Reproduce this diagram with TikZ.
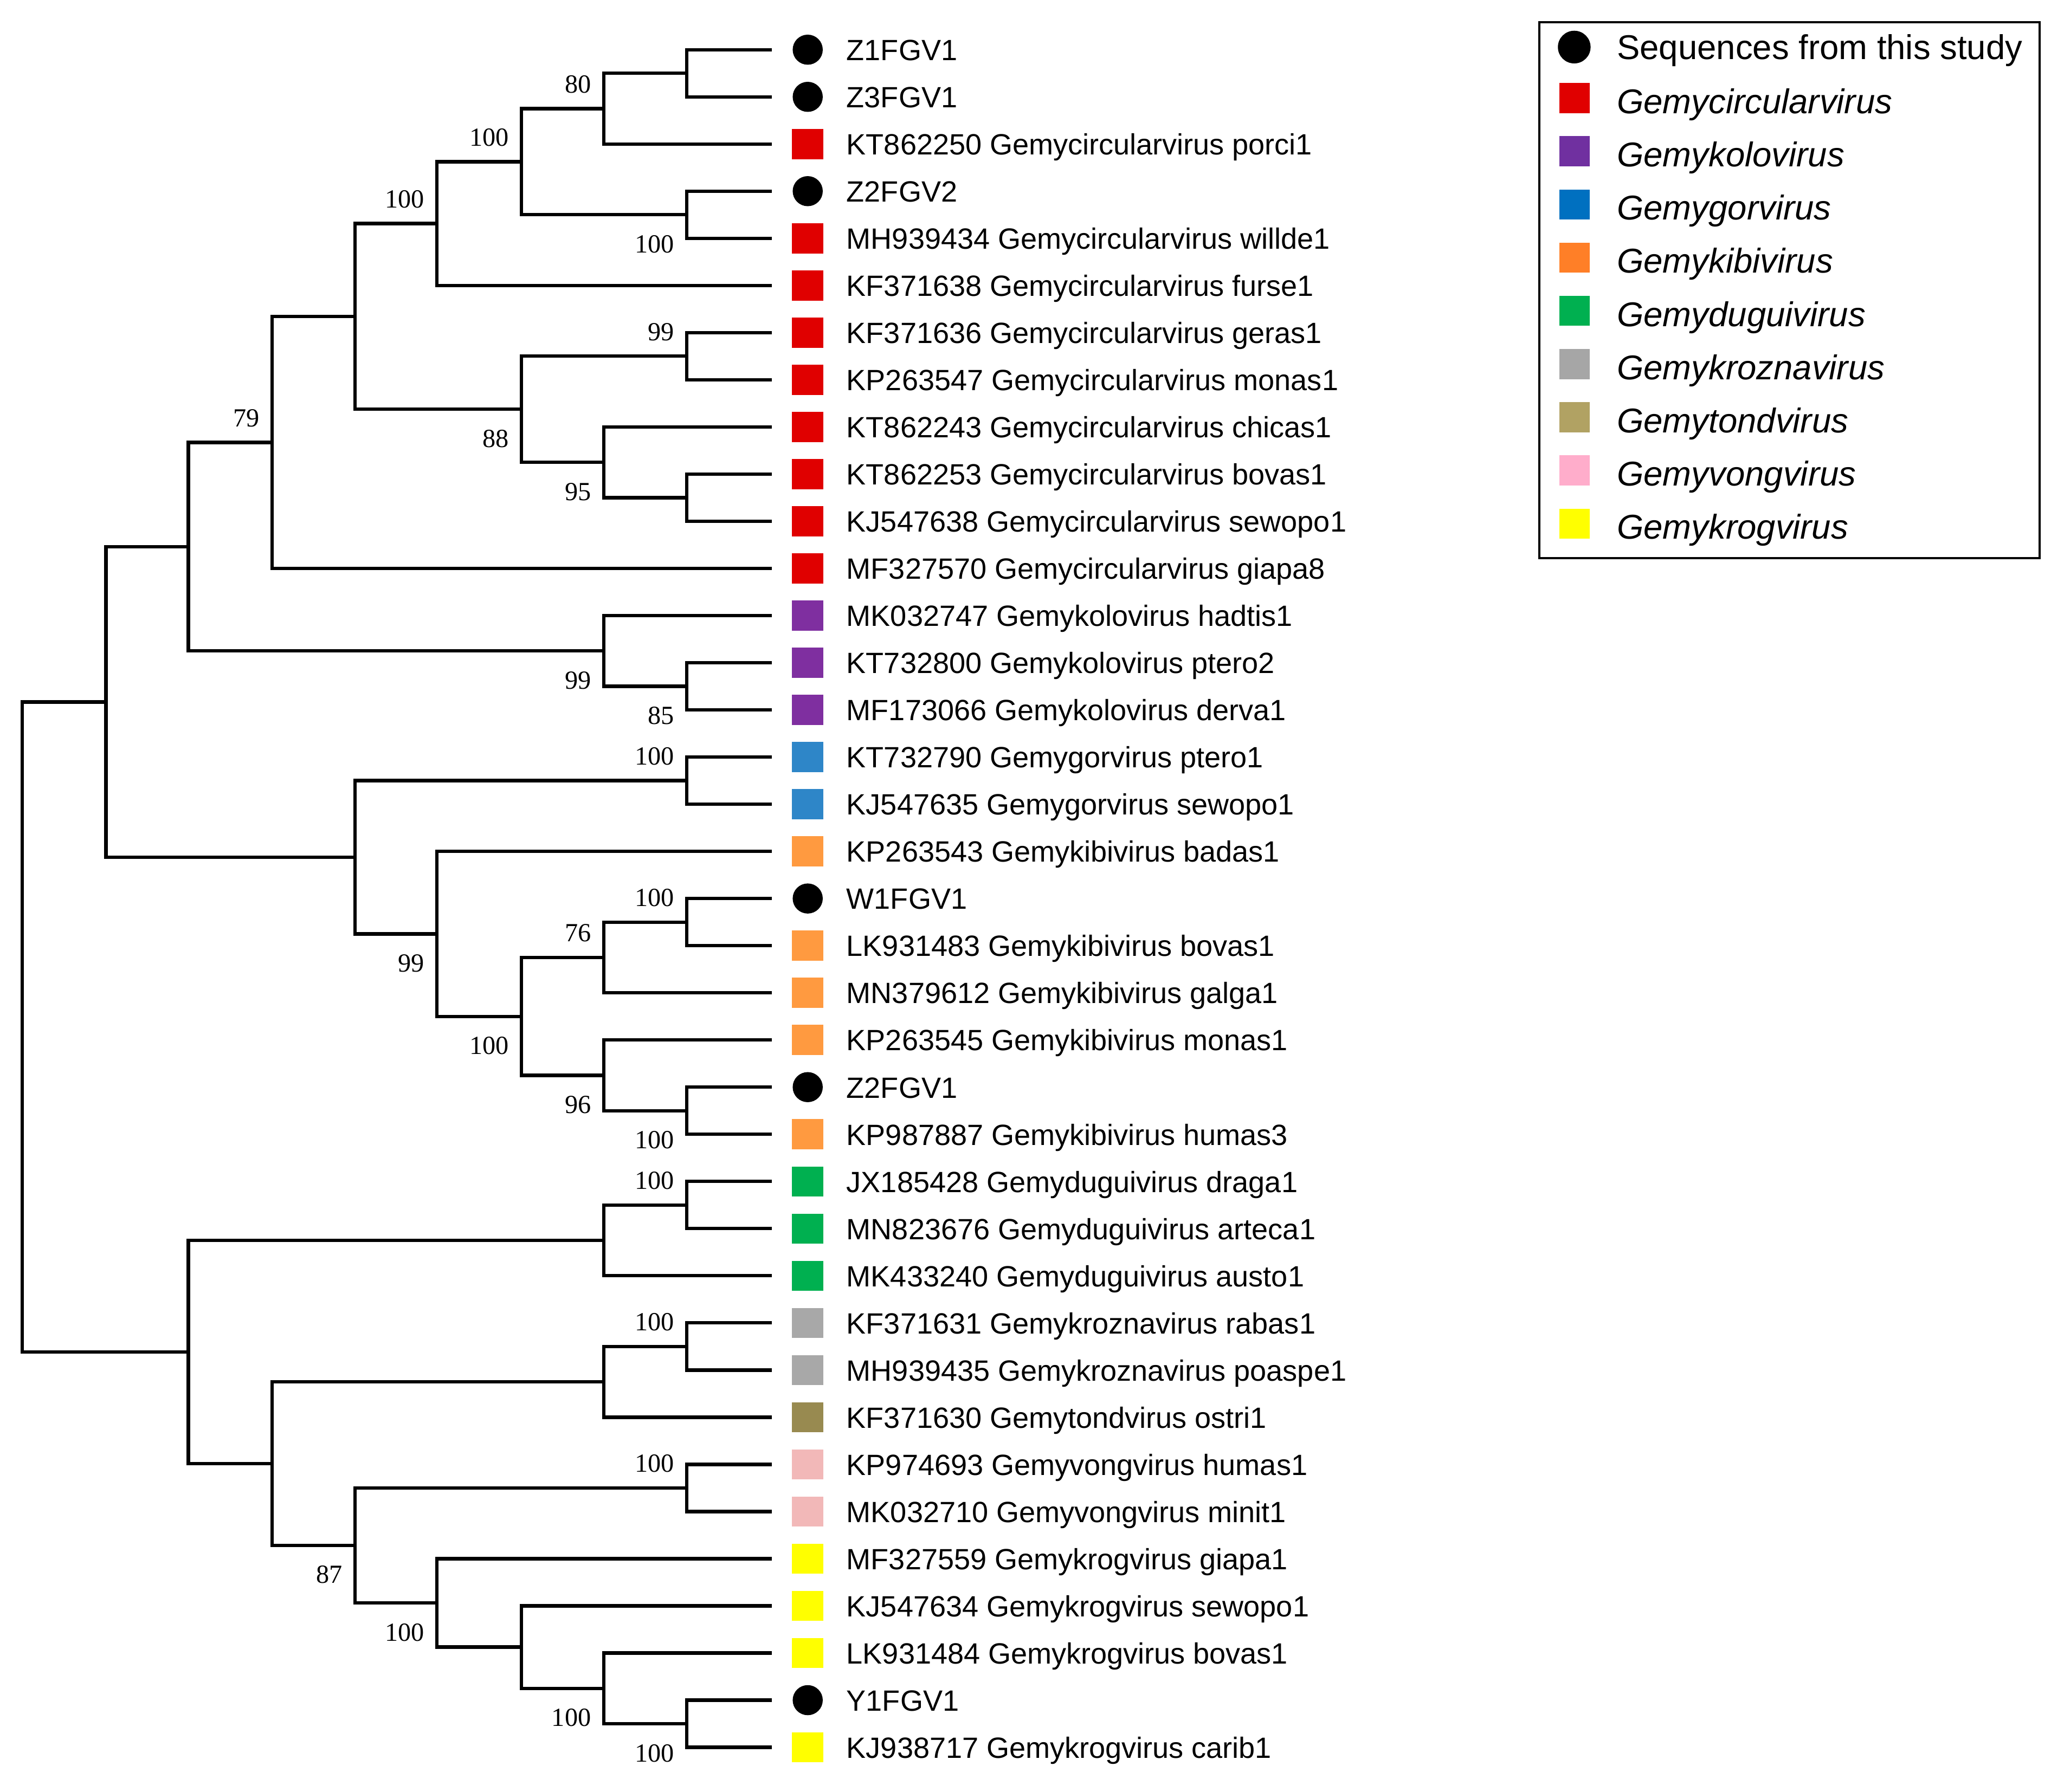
\documentclass[tikz,border=0pt]{standalone}
\usepackage{fontspec}
\setmainfont{Liberation Sans}
\newfontfamily\bsfont{Liberation Serif}
\definecolor{lred}{HTML}{E00000}
\definecolor{lpur}{HTML}{7F2FA0}
\definecolor{lblu}{HTML}{2E86C8}
\definecolor{lora}{HTML}{FF9A40}
\definecolor{lgrn}{HTML}{00B050}
\definecolor{lgry}{HTML}{A8A8A8}
\definecolor{lolv}{HTML}{988A50}
\definecolor{lpnk}{HTML}{F2B8B8}
\definecolor{lyel}{HTML}{FFFF00}
\definecolor{gred}{HTML}{E00000}
\definecolor{gpur}{HTML}{7030A0}
\definecolor{gblu}{HTML}{0070C0}
\definecolor{gora}{HTML}{FF7F27}
\definecolor{ggrn}{HTML}{00B050}
\definecolor{ggry}{HTML}{A6A6A6}
\definecolor{golv}{HTML}{B1A263}
\definecolor{gpnk}{HTML}{FFADCB}
\definecolor{gyel}{HTML}{FFFF00}
\begin{document}
\begin{tikzpicture}[x=1pt,y=-1pt,
  br/.style={line width=2.6pt},
  bsbase/.style={anchor=base east, inner sep=0pt, xshift=-9.5pt, font=\bsfont\fontsize{20pt}{22pt}\selectfont},
  bsa/.style={bsbase, yshift=12pt},
  bsb/.style={bsbase, yshift=-29pt},
  msq/.style={rectangle, draw=none, inner sep=0pt, minimum width=24pt, minimum height=23pt},
  mdot/.style={circle, fill=black, draw=none, inner sep=0pt, minimum size=23pt},
  mred/.style={msq, fill=lred},
  mpur/.style={msq, fill=lpur},
  mblu/.style={msq, fill=lblu},
  mora/.style={msq, fill=lora},
  mgrn/.style={msq, fill=lgrn},
  mgry/.style={msq, fill=lgry},
  molv/.style={msq, fill=lolv},
  mpnk/.style={msq, fill=lpnk},
  myel/.style={msq, fill=lyel},
  leaftext/.style={anchor=base west, inner sep=0pt, yshift=-8.2pt, font=\fontsize{22.4pt}{26pt}\selectfont},
  gsq/.style={rectangle, draw=none, inner sep=0pt, minimum width=23pt, minimum height=23pt},
  legtext/.style={anchor=base west, inner sep=0pt, yshift=-9.4pt, font=\fontsize{26.3pt}{30pt}\selectfont},
  legital/.style={legtext, yshift=-2.4pt, font=\fontsize{26.3pt}{30pt}\selectfont\itshape}
]
\useasboundingbox (0,0) rectangle (1568,1370.3);

\begin{scope}[y=-36.06pt, yshift=-38pt]
  % leaves
  \foreach \k/\m/\t in {
    0/mdot/Z1FGV1,
    1/mdot/Z3FGV1,
    2/mred/KT862250 Gemycircularvirus porci1,
    3/mdot/Z2FGV2,
    4/mred/MH939434 Gemycircularvirus willde1,
    5/mred/KF371638 Gemycircularvirus furse1,
    6/mred/KF371636 Gemycircularvirus geras1,
    7/mred/KP263547 Gemycircularvirus monas1,
    8/mred/KT862243 Gemycircularvirus chicas1,
    9/mred/KT862253 Gemycircularvirus bovas1,
    10/mred/KJ547638 Gemycircularvirus sewopo1,
    11/mred/MF327570 Gemycircularvirus giapa8,
    12/mpur/MK032747 Gemykolovirus hadtis1,
    13/mpur/KT732800 Gemykolovirus ptero2,
    14/mpur/MF173066 Gemykolovirus derva1,
    15/mblu/KT732790 Gemygorvirus ptero1,
    16/mblu/KJ547635 Gemygorvirus sewopo1,
    17/mora/KP263543 Gemykibivirus badas1,
    18/mdot/W1FGV1,
    19/mora/LK931483 Gemykibivirus bovas1,
    20/mora/MN379612 Gemykibivirus galga1,
    21/mora/KP263545 Gemykibivirus monas1,
    22/mdot/Z2FGV1,
    23/mora/KP987887 Gemykibivirus humas3,
    24/mgrn/JX185428 Gemyduguivirus draga1,
    25/mgrn/MN823676 Gemyduguivirus arteca1,
    26/mgrn/MK433240 Gemyduguivirus austo1,
    27/mgry/KF371631 Gemykroznavirus rabas1,
    28/mgry/MH939435 Gemykroznavirus poaspe1,
    29/molv/KF371630 Gemytondvirus ostri1,
    30/mpnk/KP974693 Gemyvongvirus humas1,
    31/mpnk/MK032710 Gemyvongvirus minit1,
    32/myel/MF327559 Gemykrogvirus giapa1,
    33/myel/KJ547634 Gemykrogvirus sewopo1,
    34/myel/LK931484 Gemykrogvirus bovas1,
    35/mdot/Y1FGV1,
    36/myel/KJ938717 Gemykrogvirus carib1} {
    \coordinate (l\k) at (590,\k);
    \node[\m] (m\k) at (617.5,\k) {};
    \node[leaftext] (t\k) at (647,\k) {\t};
  }
  % internal nodes
  \coordinate (a1) at (525,0.5);
  \coordinate (a2) at (461.5,1.25);
  \coordinate (a3) at (525,3.5);
  \coordinate (a4) at (398.6,2.375);
  \coordinate (a5) at (334,3.6875);
  \coordinate (a6) at (525,6.5);
  \coordinate (a7) at (525,9.5);
  \coordinate (a8) at (461.5,8.75);
  \coordinate (a9) at (398.6,7.625);
  \coordinate (a10) at (271.5,5.65625);
  \coordinate (a11) at (208,8.328125);
  \coordinate (b1) at (525,13.5);
  \coordinate (b2) at (461.5,12.75);
  \coordinate (a12) at (144,10.5390625);
  \coordinate (c1) at (525,15.5);
  \coordinate (c2) at (525,18.5);
  \coordinate (c3) at (461.5,19.25);
  \coordinate (c4) at (525,22.5);
  \coordinate (c5) at (461.5,21.75);
  \coordinate (c6) at (398.6,20.5);
  \coordinate (c7) at (334,18.75);
  \coordinate (c8) at (271.5,17.125);
  \coordinate (top) at (81,13.83203125);
  \coordinate (d1) at (525,24.5);
  \coordinate (d2) at (461.5,25.25);
  \coordinate (e1) at (525,27.5);
  \coordinate (e2) at (461.5,28.25);
  \coordinate (f1) at (525,30.5);
  \coordinate (g1) at (525,35.5);
  \coordinate (g2) at (461.5,34.75);
  \coordinate (g3) at (398.6,33.875);
  \coordinate (g4) at (334,32.9375);
  \coordinate (f2) at (271.5,31.71875);
  \coordinate (e3) at (208,29.984375);
  \coordinate (bot) at (144,27.6171875);
  \coordinate (root) at (17,20.724609375);
  % branches
  \foreach \p/\c in {a1/l0,a1/l1,a2/a1,a2/l2,a3/l3,a3/l4,a4/a2,a4/a3,a5/a4,a5/l5,
    a6/l6,a6/l7,a7/l9,a7/l10,a8/l8,a8/a7,a9/a6,a9/a8,a10/a5,a10/a9,a11/a10,a11/l11,
    b1/l13,b1/l14,b2/l12,b2/b1,a12/a11,a12/b2,
    c1/l15,c1/l16,c2/l18,c2/l19,c3/c2,c3/l20,c4/l22,c4/l23,c5/l21,c5/c4,c6/c3,c6/c5,
    c7/l17,c7/c6,c8/c1,c8/c7,top/a12,top/c8,
    d1/l24,d1/l25,d2/d1,d2/l26,e1/l27,e1/l28,e2/e1,e2/l29,f1/l30,f1/l31,
    g1/l35,g1/l36,g2/l34,g2/g1,g3/l33,g3/g2,g4/l32,g4/g3,f2/f1,f2/g4,e3/e2,e3/f2,
    bot/d2,bot/e3,root/top,root/bot}
    \draw[br] (\p) |- (\c);
  % bootstrap values
  \foreach \n/\s/\v in {a2/bsa/80, a4/bsa/100, a5/bsa/100, a3/bsb/100, a6/bsa/99,
    a9/bsb/88, a8/bsb/95, a11/bsa/79, b2/bsb/99, b1/bsb/85, c1/bsa/100, c7/bsb/99,
    c6/bsb/100, c3/bsa/76, c2/bsa/100, c5/bsb/96, c4/bsb/100, d1/bsa/100, e1/bsa/100,
    f1/bsa/100, f2/bsb/87, g4/bsb/100, g2/bsb/100, g1/bsb/100}
    \node[\s] (bs\n) at (\n) {\v};
\end{scope}

% legend
\node[draw, line width=1.8pt, inner sep=0pt, minimum width=382.5pt, minimum height=410pt, anchor=north west] (legend) at (1176,16) {};
\node[mdot, minimum size=25pt] (k0) at (1203.5,36) {};
\node[legtext] (kt0) at (1236,36) {Sequences from this study};
\foreach \j/\c/\t in {0/gred/Gemycircularvirus, 1/gpur/Gemykolovirus, 2/gblu/Gemygorvirus,
  3/gora/Gemykibivirus, 4/ggrn/Gemyduguivirus, 5/ggry/Gemykroznavirus,
  6/golv/Gemytondvirus, 7/gpnk/Gemyvongvirus, 8/gyel/Gemykrogvirus} {
  \node[gsq, fill=\c] (ks\j) at (1203.7,{75+40.68*\j}) {};
  \node[legital] (kn\j) at (1236,{75+40.68*\j}) {\t};
}
\end{tikzpicture}
\end{document}
